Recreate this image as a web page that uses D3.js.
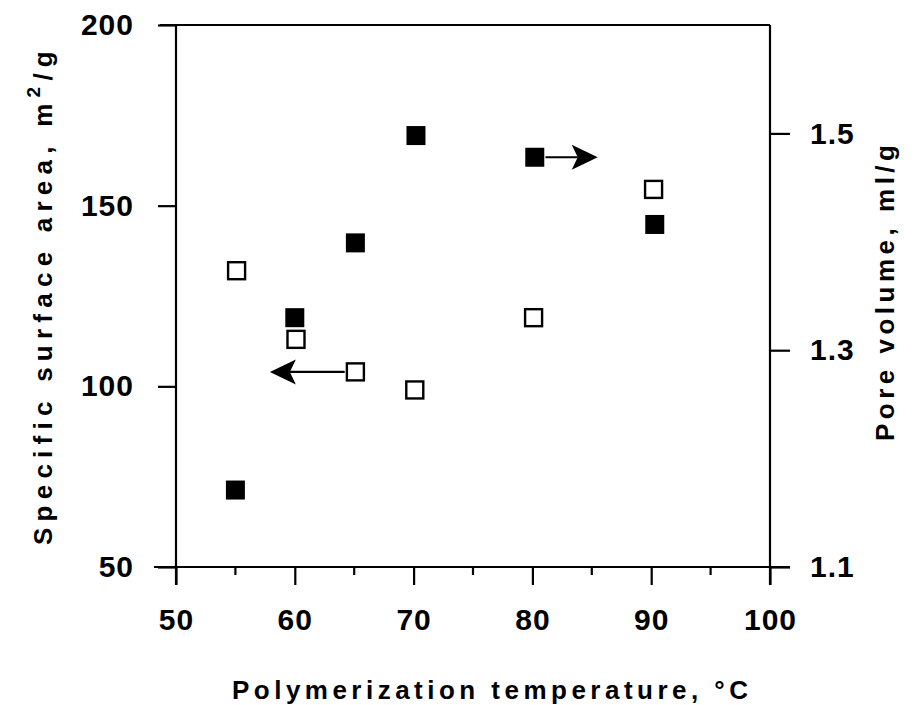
<!DOCTYPE html>
<html>
<head>
<meta charset="utf-8">
<script src="https://cdn.jsdelivr.net/npm/d3@7"></script>
<style>
  html, body { margin: 0; padding: 0; background: #fff; }
  text { font-family: "Liberation Sans", Arial, Helvetica, sans-serif; font-weight: bold; fill: #000; }
</style>
</head>
<body>
<svg id="chart" width="922" height="705"></svg>
<script>
// ---- data ----
const areaTemps = [55.1, 60.1, 65.1, 70.1, 80.1, 90.2];
const areaValues = [132, 113, 104, 99, 119, 154.5];
const poreTemps = [55.0, 60.0, 65.1, 70.2, 80.2, 90.3];
const poreValues = [1.171, 1.330, 1.399, 1.498, 1.478, 1.416];
const xTicks = [50, 60, 70, 80, 90, 100];
const xMinorTicks = [55, 65, 75, 85, 95];
const leftTicks = [50, 100, 150, 200];
const rightTicks = [1.1, 1.3, 1.5];
const xTitle = "Polymerization temperature, °C";
const leftTitle = "Specific surface area, m";
const rightTitle = "Pore volume, ml/g";
// arrows: [fromX, toX, value] in data units
const areaArrow = [64.2, 57.9, 104];
const poreArrow = [81.1, 85.5, 1.478];

// ---- layout ----
const svg = d3.select("#chart");
const L = 176, R = 770, T = 25, B = 567;
const x = d3.scaleLinear().domain([50, 100]).range([L, R]);
const yL = d3.scaleLinear().domain([50, 200]).range([B, T]);
const yR = d3.scaleLinear().domain([1.1, 1.6]).range([B, T]);

const sw = 2.2;

// frame lines
svg.append("line").attr("x1", L - 16).attr("x2", R).attr("y1", T).attr("y2", T)
  .attr("stroke", "#000").attr("stroke-width", sw);
svg.append("line").attr("x1", L).attr("x2", L).attr("y1", T).attr("y2", B + 18)
  .attr("stroke", "#000").attr("stroke-width", sw);
svg.append("line").attr("x1", R).attr("x2", R).attr("y1", T).attr("y2", B + 18)
  .attr("stroke", "#000").attr("stroke-width", sw);

// bottom axis
const gx = svg.append("g").attr("transform", `translate(0,${B})`)
  .call(d3.axisBottom(x).tickValues(xTicks).tickSize(18).tickPadding(24).tickFormat(d3.format("d")));
gx.select(".domain").remove();
gx.selectAll(".tick line").attr("stroke-width", sw);
gx.selectAll(".tick text").style("font-size", "30px").style("letter-spacing", "1px").attr("dy", "0.71em");
svg.append("line").attr("x1", L - 22).attr("x2", R + 20).attr("y1", B).attr("y2", B)
  .attr("stroke", "#000").attr("stroke-width", sw);
svg.append("g").selectAll("line").data(xMinorTicks).join("line")
  .attr("x1", d => x(d)).attr("x2", d => x(d)).attr("y1", B).attr("y2", B + 8)
  .attr("stroke", "#000").attr("stroke-width", sw);

// left axis
const gl = svg.append("g").attr("transform", `translate(${L},0)`)
  .call(d3.axisLeft(yL).tickValues(leftTicks).tickSize(18).tickPadding(24).tickFormat(d3.format("d")));
gl.select(".domain").remove();
gl.selectAll(".tick line").attr("stroke-width", sw);
gl.selectAll(".tick text").style("font-size", "30px").style("letter-spacing", "1px");

// right axis
const gr = svg.append("g").attr("transform", `translate(${R},0)`)
  .call(d3.axisRight(yR).tickValues(rightTicks).tickSize(20).tickPadding(20).tickFormat(d3.format(".1f")));
gr.select(".domain").remove();
gr.selectAll(".tick line").attr("stroke-width", sw);
gr.selectAll(".tick text").style("font-size", "30px").style("letter-spacing", "1px");

// markers
const ms = 19;
svg.append("g").selectAll("rect").data(areaTemps.map((t, i) => [t, areaValues[i]])).join("rect")
  .attr("x", d => x(d[0]) - ms / 2 + 1).attr("y", d => yL(d[1]) - ms / 2 + 1)
  .attr("width", ms - 2).attr("height", ms - 2)
  .attr("fill", "#fff").attr("stroke", "#000").attr("stroke-width", 2.4);
svg.append("g").selectAll("rect").data(poreTemps.map((t, i) => [t, poreValues[i]])).join("rect")
  .attr("x", d => x(d[0]) - ms / 2).attr("y", d => yR(d[1]) - ms / 2)
  .attr("width", ms).attr("height", ms)
  .attr("fill", "#000");

// arrows
function arrow(x0, x1, yy) {
  const dir = x1 > x0 ? 1 : -1;
  const len = 26, half = 12.5, notch = 6;
  svg.append("line").attr("x1", x0).attr("x2", x1 - dir * (len - notch)).attr("y1", yy).attr("y2", yy)
    .attr("stroke", "#000").attr("stroke-width", 2.2);
  const p = d3.path();
  p.moveTo(x1, yy);
  p.lineTo(x1 - dir * len, yy - half);
  p.lineTo(x1 - dir * (len - notch), yy);
  p.lineTo(x1 - dir * len, yy + half);
  p.closePath();
  svg.append("path").attr("d", p.toString()).attr("fill", "#000");
}
arrow(x(areaArrow[0]), x(areaArrow[1]), yL(areaArrow[2]));
arrow(x(poreArrow[0]), x(poreArrow[1]), yR(poreArrow[2]));

// titles
svg.append("text").attr("x", (232 + 748) / 2).attr("y", 699)
  .attr("text-anchor", "middle").style("font-size", "26px")
  .attr("textLength", 516).attr("lengthAdjust", "spacing")
  .text(xTitle);

const lt = svg.append("text")
  .attr("transform", "translate(52,545) rotate(-90)")
  .style("font-size", "26px");
lt.append("tspan").text(leftTitle);
lt.append("tspan").attr("dy", -12).style("font-size", "19px").text("2");
lt.append("tspan").attr("dy", 12).text("/g");
// spread letters so the title spans the same height as in the figure
const ltLen = lt.node().getComputedTextLength();
const nChars = (leftTitle + "2/g").length;
lt.style("letter-spacing", ((500 - ltLen) / nChars) + "px");

svg.append("text")
  .attr("transform", "translate(894,441) rotate(-90)")
  .style("font-size", "26px")
  .attr("textLength", 296).attr("lengthAdjust", "spacing")
  .text(rightTitle);
</script>
</body>
</html>
